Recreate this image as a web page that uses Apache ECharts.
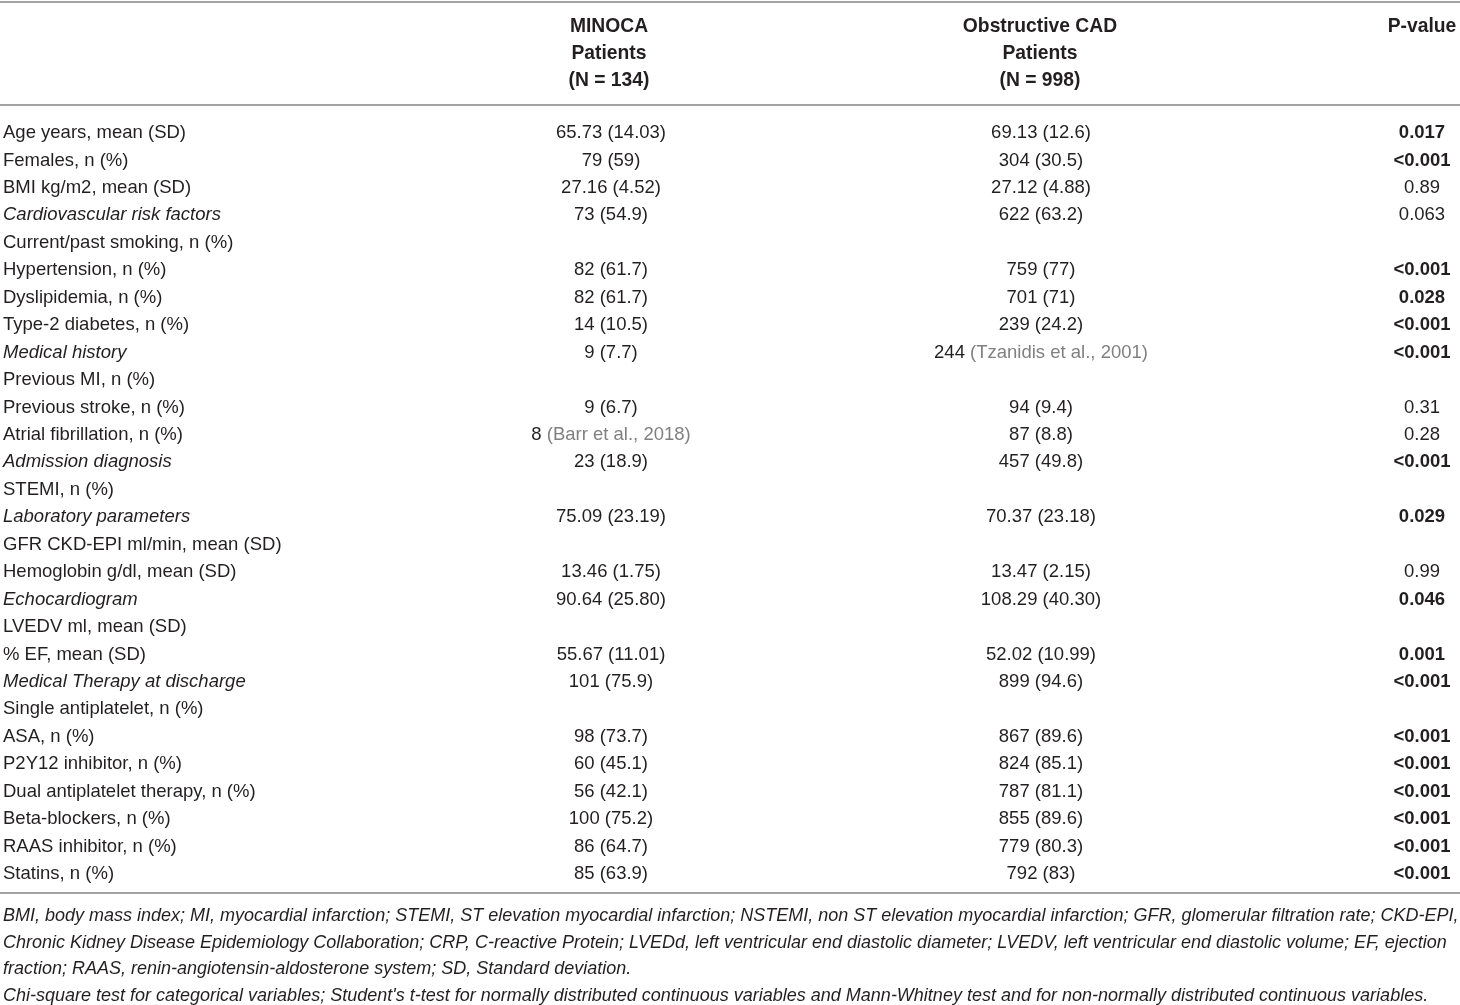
<!DOCTYPE html>
<html>
<head>
<meta charset="utf-8">
<script src="https://cdn.jsdelivr.net/npm/echarts@6/dist/echarts.min.js"></script>
<style>
  html, body { margin: 0; padding: 0; background: #fff; }
  #table { width: 1460px; height: 1005px; }
</style>
</head>
<body>
<div id="table"></div>
<script>
// column headers
var headMinoca = ['MINOCA', 'Patients', '(N = 134)'];
var headCad = ['Obstructive CAD', 'Patients', '(N = 998)'];
var headP = ['P-value'];

// row labels
var rowLabels = [
    'Age years, mean (SD)', 'Females, n (%)', 'BMI kg/m2, mean (SD)',
    'Cardiovascular risk factors', 'Current/past smoking, n (%)', 'Hypertension, n (%)',
    'Dyslipidemia, n (%)', 'Type-2 diabetes, n (%)', 'Medical history',
    'Previous MI, n (%)', 'Previous stroke, n (%)', 'Atrial fibrillation, n (%)',
    'Admission diagnosis', 'STEMI, n (%)', 'Laboratory parameters',
    'GFR CKD-EPI ml/min, mean (SD)', 'Hemoglobin g/dl, mean (SD)', 'Echocardiogram',
    'LVEDV ml, mean (SD)', '% EF, mean (SD)', 'Medical Therapy at discharge',
    'Single antiplatelet, n (%)', 'ASA, n (%)', 'P2Y12 inhibitor, n (%)',
    'Dual antiplatelet therapy, n (%)', 'Beta-blockers, n (%)', 'RAAS inhibitor, n (%)',
    'Statins, n (%)'
];
// section rows, drawn in italics
var sectionRows = [
    'Cardiovascular risk factors', 'Medical history', 'Admission diagnosis',
    'Laboratory parameters', 'Echocardiogram', 'Medical Therapy at discharge'
];

var minocaVals = [
    '65.73 (14.03)', '79 (59)', '27.16 (4.52)', '73 (54.9)', '', '82 (61.7)',
    '82 (61.7)', '14 (10.5)', '9 (7.7)', '', '9 (6.7)', '8 (Barr et al., 2018)',
    '23 (18.9)', '', '75.09 (23.19)', '', '13.46 (1.75)', '90.64 (25.80)',
    '', '55.67 (11.01)', '101 (75.9)', '', '98 (73.7)', '60 (45.1)',
    '56 (42.1)', '100 (75.2)', '86 (64.7)', '85 (63.9)'
];
var cadVals = [
    '69.13 (12.6)', '304 (30.5)', '27.12 (4.88)', '622 (63.2)', '', '759 (77)',
    '701 (71)', '239 (24.2)', '244 (Tzanidis et al., 2001)', '', '94 (9.4)', '87 (8.8)',
    '457 (49.8)', '', '70.37 (23.18)', '', '13.47 (2.15)', '108.29 (40.30)',
    '', '52.02 (10.99)', '899 (94.6)', '', '867 (89.6)', '824 (85.1)',
    '787 (81.1)', '855 (89.6)', '779 (80.3)', '792 (83)'
];
var pVals = [
    '0.017', '<0.001', '0.89', '0.063', '', '<0.001',
    '0.028', '<0.001', '<0.001', '', '0.31', '0.28',
    '<0.001', '', '0.029', '', '0.99', '0.046',
    '', '0.001', '<0.001', '', '<0.001', '<0.001',
    '<0.001', '<0.001', '<0.001', '<0.001'
];

var footnotes = [
    'BMI, body mass index; MI, myocardial infarction; STEMI, ST elevation myocardial infarction; NSTEMI, non ST elevation myocardial infarction; GFR, glomerular filtration rate; CKD-EPI,',
    'Chronic Kidney Disease Epidemiology Collaboration; CRP, C-reactive Protein; LVEDd, left ventricular end diastolic diameter; LVEDV, left ventricular end diastolic volume; EF, ejection',
    'fraction; RAAS, renin-angiotensin-aldosterone system; SD, Standard deviation.',
    "Chi-square test for categorical variables; Student's t-test for normally distributed continuous variables and Mann-Whitney test and for non-normally distributed continuous variables."
];

var FONT = '"Liberation Sans", Arial, sans-serif';
var INK = '#231f20';
var CITE = '#808080';
var RULE = '#a3a3a3';
var FS = 18.5;

// x anchors of the columns (left edge for labels, centres otherwise)
var colX = [3, 611, 1041, 1422];

var cells = [];
for (var r = 0; r < rowLabels.length; r++) {
    cells.push([colX[0], r, 0]);
    cells.push([colX[1], r, 1]);
    cells.push([colX[2], r, 2]);
    cells.push([colX[3], r, 3]);
}

function cellText(c, r) {
    if (c == 0) return rowLabels[r];
    if (c == 1) return minocaVals[r];
    if (c == 2) return cadVals[r];
    return pVals[r];
}

function isSignificant(p) {
    if (!p) return false;
    if (p.charAt(0) == '<') return true;
    return parseFloat(p) < 0.05;
}

function renderCell(params, api) {
    var x = api.value(0), r = api.value(1), c = api.value(2);
    var pt = api.coord([x, r]);
    var txt = cellText(c, r);
    if (!txt) return null;
    // grey citation inside parentheses
    txt = txt.replace(/(\([A-Z][a-z]+ et al\., \d{4}\))/, '{c|$1}');
    return {
        type: 'text',
        x: pt[0],
        y: pt[1],
        style: {
            text: txt,
            align: c == 0 ? 'left' : 'center',
            verticalAlign: 'middle',
            fontFamily: FONT,
            fontSize: FS,
            fontStyle: (c == 0 && sectionRows.indexOf(txt) > -1) ? 'italic' : 'normal',
            fontWeight: (c == 3 && isSignificant(txt)) ? 'bold' : 'normal',
            fill: INK,
            rich: {
                c: { fill: CITE, fontFamily: FONT, fontSize: FS }
            }
        }
    };
}

var graphics = [];
// rules
[2, 105, 893].forEach(function (y) {
    graphics.push({
        type: 'line',
        shape: { x1: 0, y1: y, x2: 1460, y2: y },
        style: { stroke: RULE, lineWidth: 2 }
    });
});
// header
function headLines(list, cx) {
    list.forEach(function (t, i) {
        graphics.push({
            type: 'text',
            x: cx, y: 27 + i * 27,
            style: {
                text: t, align: 'center', verticalAlign: 'middle',
                fontFamily: FONT, fontSize: 19.3, fontWeight: 'bold', fill: INK
            }
        });
    });
}
headLines(headMinoca, 609);
headLines(headCad, 1040);
headLines(headP, 1422);
// footnotes
footnotes.forEach(function (t, i) {
    graphics.push({
        type: 'text',
        x: 3, y: 916 + i * 26.7,
        style: {
            text: t, align: 'left', verticalAlign: 'middle',
            fontFamily: FONT, fontSize: 18, fontStyle: 'italic', fill: INK
        }
    });
});

var option = {
    backgroundColor: '#fff',
    animation: false,
    grid: { left: 0, right: 0, top: 119.3, height: 768.4 },
    xAxis: { type: 'value', min: 0, max: 1460, show: false },
    yAxis: {
        type: 'category', inverse: true, show: false,
        data: rowLabels
    },
    graphic: graphics,
    series: [{
        type: 'custom',
        renderItem: renderCell,
        data: cells,
        silent: true
    }]
};

var tableChart = echarts.init(document.getElementById('table'));
tableChart.setOption(option);
</script>
</body>
</html>
